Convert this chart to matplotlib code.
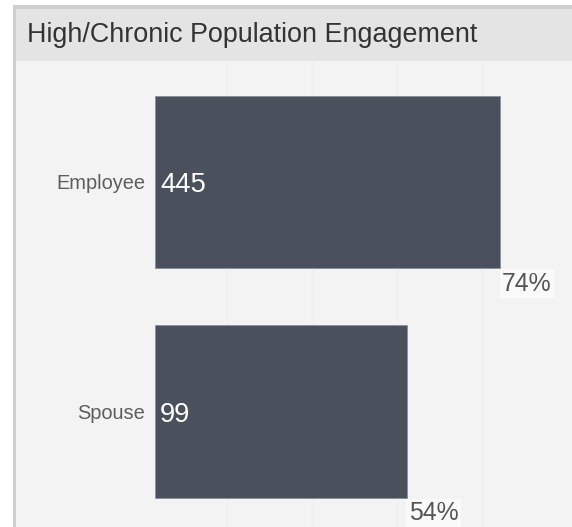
import matplotlib.pyplot as plt
from matplotlib.patches import Rectangle

categories = ["Employee", "Spouse"]
counts = [445, 99]
percents = [74, 54]
title = "High/Chronic Population Engagement"

W, H = 572, 527
plt.rcParams['font.family'] = ['Liberation Sans', 'DejaVu Sans']

fig = plt.figure(figsize=(W / 100, H / 100), dpi=100)
fig.patch.set_facecolor("white")


def px_rect(x0, y0, x1, y1, color):
    # rectangle in pixel coords (y from top)
    fig.patches.append(Rectangle((x0 / W, 1 - y1 / H), (x1 - x0) / W, (y1 - y0) / H,
                                 transform=fig.transFigure, facecolor=color,
                                 edgecolor="none", zorder=-10))


px_rect(13, 5, W, H, "#cfcfcf")
px_rect(16, 9, W, 61, "#e4e4e4")
px_rect(16, 61, W, H, "#f3f3f3")
fig.text(27 / W, 1 - 35 / H, title, fontsize=19.4, color="#333333",
         ha="left", va="center")

# plot area
x0_px, top_px = 155, 61
scale = 4.66  # px per percent
ax = fig.add_axes([x0_px / W, 0, (W - x0_px) / W, (H - top_px) / H])
ax.set_facecolor("none")
ax.set_xlim(0, (W - x0_px) / scale)
ax.set_ylim(1.503, -0.527)
for s in ax.spines.values():
    s.set_visible(False)
ax.set_xticks([])
ax.set_yticks([])

for g in [15.45, 33.7, 51.9, 70.2]:
    ax.axvline(g, color="#eeeeee", lw=1, zorder=0)

ypos = list(range(len(categories)))
ax.barh(ypos, percents, height=0.75, color="#4a505c", edgecolor="#8a8f99",
        linewidth=0.6, zorder=2)

for i, (cat, n, p) in enumerate(zip(categories, counts, percents)):
    ax.text(-2.15, i, cat, ha="right", va="center_baseline", fontsize=14.4,
            color="#5e5e5e", clip_on=False)
    ax.text(1.07, i, str(n), ha="left", va="center_baseline", fontsize=19.8,
            color="white", zorder=3)
    ax.text(p + 0.5, i + 0.39, f"{p}%", ha="left", va="top", fontsize=17.8,
            color="#555555", zorder=3,
            bbox=dict(boxstyle="square,pad=0.1", facecolor="#fafafa",
                      edgecolor="none"))

fig.savefig("out.png", dpi=100)
